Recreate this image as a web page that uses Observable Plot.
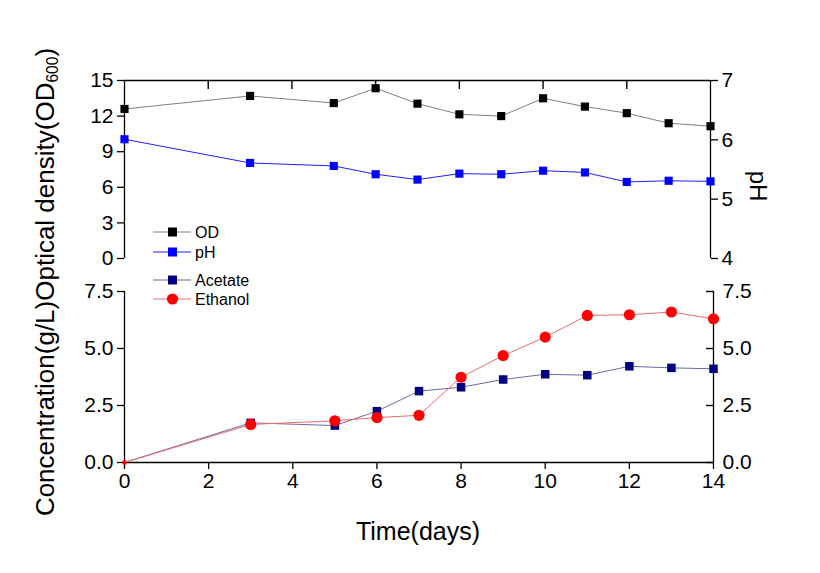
<!DOCTYPE html>
<html>
<head>
<meta charset="utf-8">
<script src="https://cdn.jsdelivr.net/npm/d3@7"></script>
<script src="https://cdn.jsdelivr.net/npm/@observablehq/plot@0.6"></script>
<style>
  html, body { margin: 0; padding: 0; background: #fff; }
  #wrap { position: relative; width: 820px; height: 573px; font-family: "Liberation Sans", Arial, sans-serif; overflow: hidden; }
  .abs { position: absolute; }
  .rot { position: absolute; width: 0; height: 0; }
  .rot span { position: absolute; white-space: nowrap; left: 0; top: 0; }
</style>
</head>
<body>
<div id="wrap"></div>
<script>
// ---- data ----
const days = [0, 3, 5, 6, 7, 8, 9, 10, 11, 12, 13, 14];
const odValues = [12.6, 13.7, 13.1, 14.35, 13.05, 12.15, 12.0, 13.5, 12.8, 12.25, 11.4, 11.15];
const phValues = [6.01, 5.61, 5.56, 5.42, 5.33, 5.43, 5.42, 5.48, 5.45, 5.29, 5.31, 5.30];
const acetateValues = [0, 1.74, 1.62, 2.25, 3.13, 3.30, 3.64, 3.87, 3.83, 4.22, 4.15, 4.11];
const ethanolValues = [0, 1.67, 1.83, 1.97, 2.07, 3.74, 4.69, 5.5, 6.45, 6.48, 6.6, 6.30];
const odTicks = [0, 3, 6, 9, 12, 15];
const phTicks = [4, 5, 6, 7];
const concTicks = [0, 2.5, 5, 7.5];
const dayTicks = [0, 2, 4, 6, 8, 10, 12, 14];

// pH shares the OD frame: pH 4..7 maps onto OD 0..15
const phToOd = p => (p - 4) * 5;

const odData = days.map((d, i) => ({day: d, v: odValues[i]}));
const phData = days.map((d, i) => ({day: d, v: phToOd(phValues[i])}));
const acetateData = days.map((d, i) => ({day: d, v: acetateValues[i]}));
const ethanolData = days.map((d, i) => ({day: d, v: ethanolValues[i]}));

const font = "Liberation Sans, Arial, sans-serif";
const wrap = document.getElementById("wrap");
const blank = () => "";

// ---- top panel ----
const topPlot = Plot.plot({
  width: 820, height: 270,
  marginTop: 80, marginBottom: 12, marginLeft: 124, marginRight: 110,
  style: {fontFamily: font, overflow: "visible", background: "transparent"},
  x: {domain: [0, 14], axis: null},
  y: {domain: [0, 15], axis: null},
  marks: [
    Plot.ruleY([15], {stroke: "#000", strokeWidth: 1.3}),
    Plot.ruleX([0], {stroke: "#000", strokeWidth: 1.3}),
    Plot.ruleX([14], {stroke: "#000", strokeWidth: 1.3}),
    // inward ticks along the top edge
    Plot.axisX({anchor: "top", ticks: dayTicks.filter(d => d > 0 && d < 14), tickSize: 8, dy: 8, tickFormat: blank, label: null, stroke: "#000", strokeWidth: 1.4}),
    Plot.axisY({anchor: "left", ticks: odTicks, tickSize: 7, tickPadding: 4, fontSize: 21, label: null, strokeWidth: 1.3}),
    Plot.axisY({anchor: "right", ticks: phTicks.map(phToOd), tickFormat: d => d / 5 + 4, tickSize: 7, tickPadding: 4, fontSize: 21, label: null, strokeWidth: 1.3}),
    Plot.line(odData, {x: "day", y: "v", stroke: "#808080", strokeWidth: 1}),
    Plot.line(phData, {x: "day", y: "v", stroke: "#1f1fff", strokeWidth: 1}),
    Plot.dot(odData, {x: "day", y: "v", symbol: "square", r: 4.6, fill: "#000", stroke: null}),
    Plot.dot(phData, {x: "day", y: "v", symbol: "square", r: 4.6, fill: "#0000ff", stroke: null})
  ]
});
topPlot.style.position = "absolute";
topPlot.style.left = "0px";
topPlot.style.top = "0px";
wrap.appendChild(topPlot);

// ---- bottom panel ----
const bottomPlot = Plot.plot({
  width: 820, height: 303,
  marginTop: 21, marginBottom: 111, marginLeft: 124, marginRight: 107,
  style: {fontFamily: font, overflow: "visible", background: "transparent"},
  x: {domain: [0, 14], axis: null},
  y: {domain: [0, 7.5], axis: null},
  marks: [
    Plot.ruleY([0], {stroke: "#000", strokeWidth: 1.3}),
    Plot.ruleX([0], {stroke: "#000", strokeWidth: 1.3}),
    Plot.ruleX([14], {stroke: "#000", strokeWidth: 1.3}),
    Plot.axisX({anchor: "bottom", ticks: dayTicks, tickSize: 7, tickPadding: 4, fontSize: 21, label: null, strokeWidth: 1.3}),
    Plot.axisY({anchor: "left", ticks: concTicks, tickFormat: d3.format(".1f"), tickSize: 7, tickPadding: 4, fontSize: 21, label: null, strokeWidth: 1.3}),
    // right axis: inward ticks + labels
    Plot.axisY({anchor: "right", ticks: concTicks, tickFormat: blank, tickSize: 8, dx: -8, label: null, stroke: "#000", strokeWidth: 1.4}),
    Plot.axisY({anchor: "right", ticks: concTicks, tickFormat: d3.format(".1f"), tickSize: 0, tickPadding: 9, fontSize: 21, label: null}),
    Plot.line(acetateData, {x: "day", y: "v", stroke: "#6a6aa8", strokeWidth: 1}),
    Plot.line(ethanolData, {x: "day", y: "v", stroke: "#f06a6a", strokeWidth: 1}),
    Plot.dot(acetateData.filter(d => d.day > 0), {x: "day", y: "v", symbol: "square", r: 4.8, fill: "#000080", stroke: null}),
    Plot.dot(ethanolData.filter(d => d.day > 0), {x: "day", y: "v", r: 5.6, fill: "#ff0000", stroke: null}),
    Plot.dot(ethanolData.filter(d => d.day === 0), {x: "day", y: "v", symbol: "square", r: 2.2, fill: "#ff0000", stroke: null})
  ]
});
bottomPlot.style.position = "absolute";
bottomPlot.style.left = "0px";
bottomPlot.style.top = "270px";
wrap.appendChild(bottomPlot);

// ---- legend ----
const legendItems = [
  {label: "OD", line: "#808080", fill: "#000", shape: "square", y: 232},
  {label: "pH", line: "#1f1fff", fill: "#0000ff", shape: "square", y: 252},
  {label: "Acetate", line: "#6a6aa8", fill: "#000080", shape: "square", y: 280},
  {label: "Ethanol", line: "#f06a6a", fill: "#ff0000", shape: "circle", y: 299}
];
const leg = d3.select(wrap).append("svg")
  .attr("class", "abs")
  .style("left", "0px").style("top", "0px")
  .attr("width", 820).attr("height", 573)
  .style("pointer-events", "none");
legendItems.forEach(it => {
  const g = leg.append("g").attr("transform", `translate(0,${it.y})`);
  g.append("line").attr("x1", 153).attr("x2", 191).attr("y1", 0).attr("y2", 0)
    .attr("stroke", it.line).attr("stroke-width", 1);
  if (it.shape === "square") {
    g.append("rect").attr("x", 168).attr("y", -4.5).attr("width", 9).attr("height", 9).attr("fill", it.fill);
  } else {
    g.append("circle").attr("cx", 172.5).attr("cy", 0).attr("r", 5.6).attr("fill", it.fill);
  }
  g.append("text").attr("x", 195).attr("y", 0).attr("dy", "0.35em")
    .attr("font-family", font).attr("font-size", 16).attr("fill", "#000").text(it.label);
});

// ---- titles ----
function rotText(html, cx, cy, deg, size) {
  const d = document.createElement("div");
  d.className = "rot";
  d.style.left = cx + "px";
  d.style.top = cy + "px";
  const s = document.createElement("span");
  s.innerHTML = html;
  s.style.fontSize = size + "px";
  s.style.transform = `translate(-50%,-50%) rotate(${deg}deg)`;
  d.appendChild(s);
  wrap.appendChild(d);
}
rotText('Concentration(g/L)Optical density(OD<sub style="font-size:0.6em;vertical-align:-0.25em">600</sub>)', 46, 282, -90, 26);
rotText('pH', 758, 186, 90, 24);
rotText('Time(days)', 418, 531, 0, 25);
</script>
</body>
</html>
